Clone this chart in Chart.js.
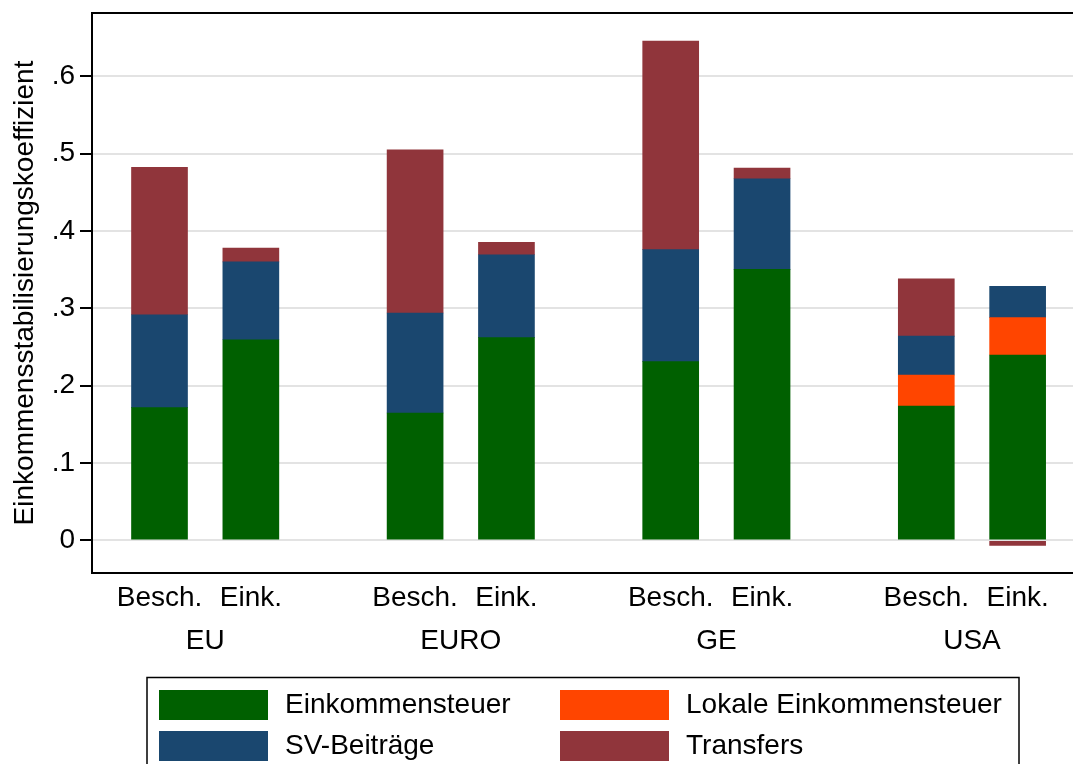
<!DOCTYPE html>
<html><head><meta charset="utf-8">
<script src="https://cdn.jsdelivr.net/npm/chart.js@4.4.0/dist/chart.umd.min.js"></script>
<style>html,body{margin:0;padding:0;background:#fff;overflow:hidden}#wrap{position:relative;width:1073px;height:764px}</style>
</head><body><div id="wrap"><canvas id="c"></canvas></div>
<script>
const countries = ['EU', 'EURO', 'GE', 'USA'];
const barTypes = ['Besch.', 'Eink.'];
const seriesNames = ['Einkommensteuer', 'Lokale Einkommensteuer', 'SV-Beiträge', 'Transfers'];
const einkommensteuer = [0.1715, 0.2594, 0.1646, 0.2620, 0.2310, 0.3504, 0.1737, 0.2396];
const lokaleEinkommensteuer = [null, null, null, null, null, null, 0.0400, 0.0484];
const svBeitraege = [0.1202, 0.1006, 0.1293, 0.1073, 0.1448, 0.1172, 0.0503, 0.0405];
const transfers = [0.1906, 0.0180, 0.2112, 0.0161, 0.2699, 0.0139, 0.0740, -0.0065];
const yTickValues = [0, 0.1, 0.2, 0.3, 0.4, 0.5, 0.6];
const yTickLabels = ['0', '.1', '.2', '.3', '.4', '.5', '.6'];

const FONT = "'Liberation Sans', Arial, sans-serif";
const GROUP_STEP = 2.798;
const pos = i => Math.floor(i / barTypes.length) * GROUP_STEP + (i % barTypes.length);
const barPositions = einkommensteuer.map((_, i) => pos(i));
const barLabels = einkommensteuer.map((_, i) => barTypes[i % barTypes.length]);
const groupCenters = countries.map((_, g) => g * GROUP_STEP + (barTypes.length - 1) / 2);
const X_MIN = -0.739, X_MAX = 10.0;

const colors = ['#006000', '#ff4500', '#1a476f', '#90353b'];
const seriesValues = [einkommensteuer, lokaleEinkommensteuer, svBeitraege, transfers];

const datasets = seriesValues.map((vals, s) => ({
  label: seriesNames[s],
  data: vals.map((v, i) => ({ x: barPositions[i], y: v })),
  backgroundColor: colors[s],
  borderWidth: 0,
  barThickness: 56,
  xAxisID: 'x',
  yAxisID: 'y'
}));

const frameTop = {
  id: 'frameTop',
  afterDraw(chart) {
    const { ctx, chartArea } = chart;
    ctx.save();
    ctx.strokeStyle = '#000';
    ctx.lineWidth = 2;
    ctx.beginPath();
    ctx.moveTo(chartArea.left - 1, chartArea.top);
    ctx.lineTo(chartArea.right, chartArea.top);
    ctx.stroke();
    ctx.restore();
  }
};

const boxLegend = {
  id: 'boxLegend',
  afterDraw(chart) {
    const ctx = chart.ctx;
    ctx.save();
    ctx.strokeStyle = '#000';
    ctx.lineWidth = 1.5;
    ctx.strokeRect(147, 677.5, 872, 110);
    const cols = [159, 560], rows = [690, 731];
    chart.data.datasets.forEach((ds, i) => {
      const c = i % 2, r = Math.floor(i / 2);
      ctx.fillStyle = ds.backgroundColor;
      ctx.fillRect(cols[c], rows[r], 109, 30);
      ctx.fillStyle = '#000';
      ctx.font = '28px ' + FONT;
      ctx.textBaseline = 'middle';
      ctx.textAlign = 'left';
      ctx.fillText(ds.label, cols[c] + 126, rows[r] + 15);
    });
    ctx.restore();
  }
};

const noPad = s => { s.paddingTop = 0; s.paddingBottom = 0; s.paddingLeft = 0; s.paddingRight = 0; };

new Chart(document.getElementById('c'), {
  type: 'bar',
  data: { datasets },
  plugins: [frameTop, boxLegend],
  options: {
    responsive: true,
    maintainAspectRatio: false,
    animation: false,
    layout: { padding: { top: 13, left: 0, right: 0, bottom: 0 } },
    plugins: { legend: { display: false }, tooltip: { enabled: false } },
    scales: {
      x: {
        type: 'linear', position: 'bottom', stacked: true, weight: 0, offset: false,
        min: X_MIN, max: X_MAX,
        grid: { display: false, drawTicks: false, offset: false },
        border: { display: true, color: '#000', width: 2 },
        afterBuildTicks: s => { s.ticks = barPositions.map(v => ({ value: v })); },
        afterFit: s => { s.height = 45; noPad(s); },
        ticks: {
          autoSkip: false, maxRotation: 0, padding: 8, color: '#000',
          font: { family: FONT, size: 28 },
          callback: (v, i) => barLabels[i]
        }
      },
      x2: {
        type: 'linear', position: 'bottom', weight: 1, offset: false,
        min: X_MIN, max: X_MAX,
        grid: { display: false, drawTicks: false },
        border: { display: false },
        afterBuildTicks: s => { s.ticks = groupCenters.map(v => ({ value: v })); },
        afterFit: s => { s.height = 146; noPad(s); },
        ticks: {
          autoSkip: false, maxRotation: 0, padding: 6, color: '#000',
          font: { family: FONT, size: 28 },
          callback: (v, i) => countries[i]
        }
      },
      y: {
        type: 'linear', stacked: true,
        min: -0.0423, max: 0.6819,
        afterBuildTicks: s => { s.ticks = yTickValues.map(v => ({ value: v })); },
        afterFit: s => { s.width = 92; noPad(s); },
        grid: { color: '#e3e3e3', lineWidth: 2, tickColor: '#000', tickWidth: 2, tickLength: 12 },
        border: { display: true, color: '#000', width: 2 },
        ticks: {
          padding: 5, color: '#000',
          font: { family: FONT, size: 28 },
          callback: (v, i) => yTickLabels[i]
        },
        title: {
          display: true, text: 'Einkommensstabilisierungskoeffizient', color: '#000',
          font: { family: FONT, size: 28 }, padding: { top: 8, bottom: 0 }
        }
      }
    }
  }
});
</script>
</body></html>
